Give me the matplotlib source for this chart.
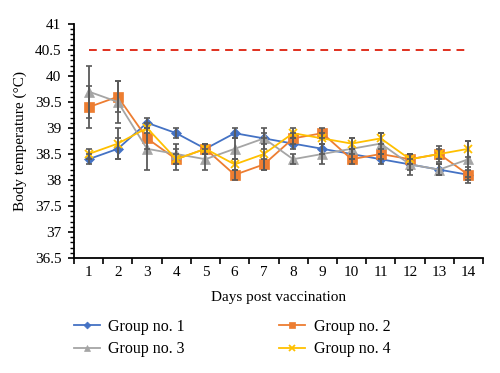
import matplotlib
matplotlib.use("Agg")
import matplotlib.pyplot as plt
import matplotlib.ticker as mticker

plt.rcParams["font.family"] = ["Liberation Serif", "DejaVu Serif"]

days = list(range(1, 15))
threshold = 40.5

group1 = [38.4, 38.6, 39.1, 38.9, 38.6, 38.9, 38.8, 38.7, 38.6, 38.5, 38.4, 38.3, 38.2, 38.1]
group2 = [39.4, 39.6, 38.8, 38.4, 38.6, 38.1, 38.3, 38.8, 38.9, 38.4, 38.5, 38.4, 38.5, 38.1]
group3 = [39.7, 39.5, 38.6, 38.5, 38.4, 38.6, 38.8, 38.4, 38.5, 38.6, 38.7, 38.3, 38.2, 38.4]
group4 = [38.5, 38.7, 39.0, 38.4, 38.6, 38.3, 38.5, 38.9, 38.8, 38.7, 38.8, 38.4, 38.5, 38.6]

err1 = [0.1, 0.2, 0.1, 0.1, 0.1, 0.1, 0.1, 0.1, 0.1, 0.1, 0.1, 0.1, 0.1, 0.1]
err2 = [0.4, 0.3, 0.2, 0.2, 0.1, 0.1, 0.1, 0.1, 0.1, 0.1, 0.1, 0.1, 0.15, 0.15]
err3 = [0.5, 0.4, 0.4, 0.2, 0.2, 0.2, 0.2, 0.1, 0.2, 0.2, 0.2, 0.2, 0.1, 0.35]
err4 = [0.1, 0.3, 0.1, 0.1, 0.1, 0.1, 0.3, 0.1, 0.1, 0.1, 0.1, 0.1, 0.1, 0.15]

series = [
    ("Group no. 1", group1, err1, "#4472C4", "D", 5),
    ("Group no. 2", group2, err2, "#ED7D31", "s", 6.5),
    ("Group no. 3", group3, err3, "#A5A5A5", "^", 7),
    ("Group no. 4", group4, err4, "#FFC000", "x", 5.5),
]

fig = plt.figure(figsize=(5.0, 3.73), dpi=100)
ax = fig.add_axes([0.148, 0.308, 0.818, 0.628])

handles = {}
for label, vals, err, color, marker, ms in series:
    ax.errorbar(days, vals, yerr=err, fmt="none", ecolor="#595959",
                elinewidth=1.3, capsize=2.5, capthick=1.2, zorder=4)
    line, = ax.plot(days, vals, color=color, marker=marker, markersize=ms,
                    linewidth=1.3, label=label, zorder=3,
                    markeredgewidth=1.3 if marker == "x" else 0.5)
    handles[label] = line

ax.plot(days, [threshold] * len(days), color="#E0301E", linewidth=1.4,
        linestyle=(0, (4, 3)), zorder=2)

ax.set_xlim(0.5, 14.5)
ax.set_ylim(36.5, 41)
ax.set_xticks(days)
ax.xaxis.set_minor_locator(mticker.FixedLocator([d + 0.5 for d in range(0, 15)]))
ax.yaxis.set_major_locator(mticker.MultipleLocator(0.5))
ax.yaxis.set_minor_locator(mticker.MultipleLocator(0.1))
ax.yaxis.set_major_formatter(mticker.FuncFormatter(lambda v, _p: f"{v:g}"))

ax.tick_params(axis="x", which="major", length=0, labelsize=11, pad=6)
ax.tick_params(axis="x", which="minor", length=4, width=1.2, direction="out")
ax.tick_params(axis="y", which="major", length=4, width=1.2, labelsize=11, pad=5)
ax.tick_params(axis="y", which="minor", length=3, width=1.0)

for side in ("top", "right"):
    ax.spines[side].set_visible(False)
for side in ("left", "bottom"):
    ax.spines[side].set_linewidth(1.3)

ax.set_xlabel("Days post vaccination", fontsize=11, labelpad=8)
ax.set_ylabel("Body temperature (°C)", fontsize=11, labelpad=6)

# column-wise fill: put 1 & 3 in the left column, 2 & 4 in the right one
order = ["Group no. 1", "Group no. 3", "Group no. 2", "Group no. 4"]
fig.legend([handles[k] for k in order], order, loc="upper left",
           bbox_to_anchor=(0.148, 1 - 319 / 373), ncol=2, frameon=False,
           fontsize=11.5, columnspacing=5.9, handlelength=1.6,
           handletextpad=0.56, labelspacing=0.4, borderpad=0,
           borderaxespad=0, markerscale=0.7)

fig.savefig("out.png", dpi=100)
